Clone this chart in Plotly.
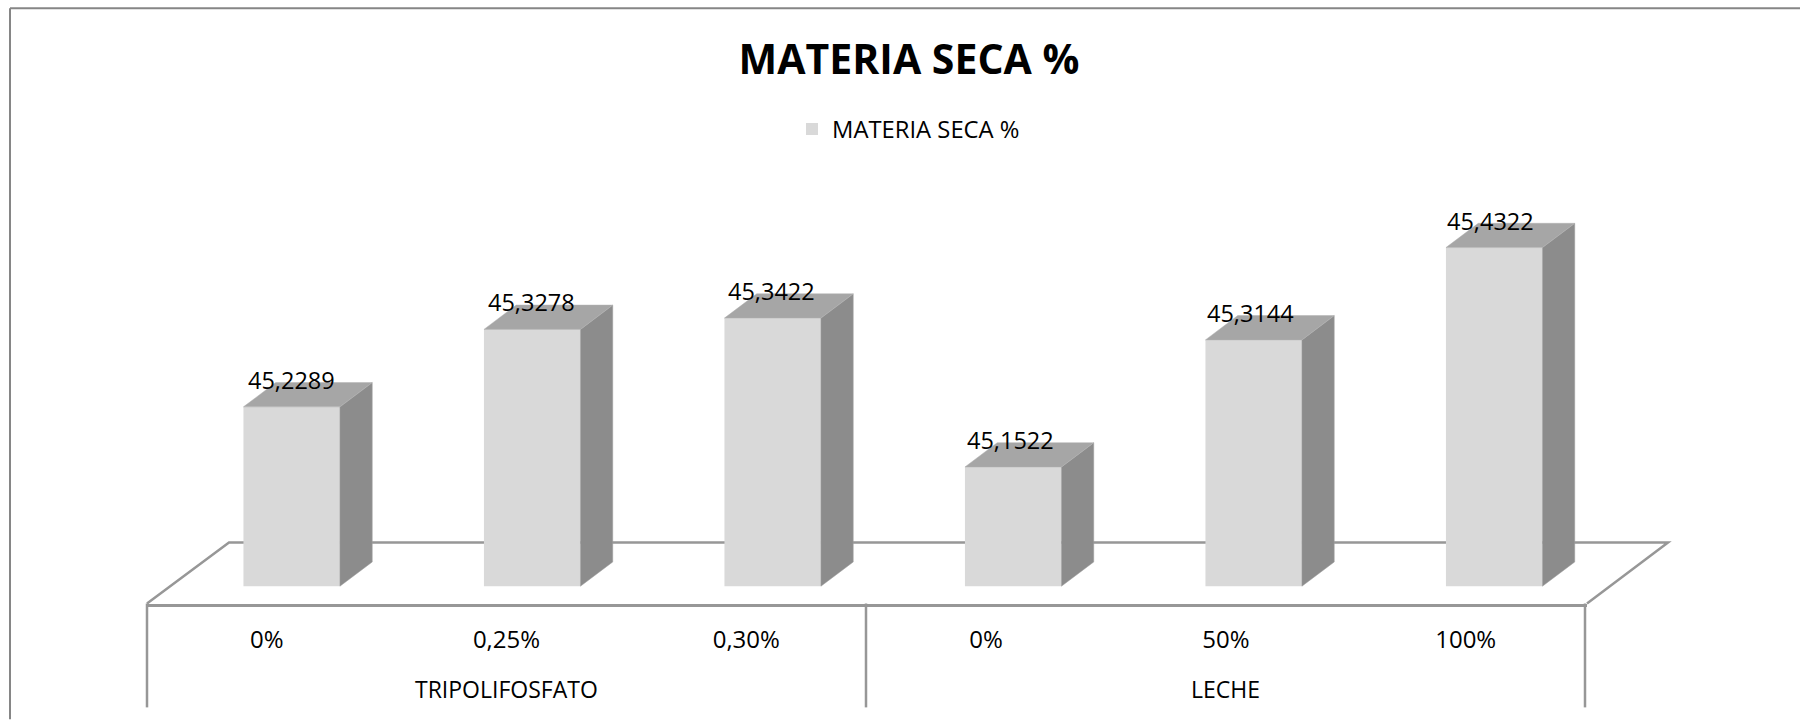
import plotly.graph_objects as go

# --- data ---
categories = ["0%", "0,25%", "0,30%", "0%", "50%", "100%"]
groups = ["TRIPOLIFOSFATO", "LECHE"]
values = [45.2289, 45.3278, 45.3422, 45.1522, 45.3144, 45.4322]
series_name = "MATERIA SECA %"

# --- styling / layout ---
W, H = 1800, 720
L, R, T, B = 147, 1587, 150, 604.5
BASE_PX = 586.7
PX_PER_UNIT_Y = 784.4
PX_PER_CAT = 240.5
CENTER0 = 291.7
BASE = 45.0
BAR_W = 96.5 / PX_PER_CAT
DX = 32.3 / PX_PER_CAT
DY = 24.3 / PX_PER_UNIT_Y
FONT = "Open Sans"
LINE = "#979797"
xs = list(range(len(values)))
# tick labels sit left of the bars (3D projection) and on a slightly tighter pitch
tick_pos = [(266.7 + 239.8 * i - CENTER0) / PX_PER_CAT for i in xs]

def px(x):
    return (x - L) / (R - L)

def py(y):
    return (B - y) / (B - T)

side_x, side_y, top_x, top_y = [], [], [], []
for i, v in zip(xs, values):
    r = i + BAR_W / 2
    l = i - BAR_W / 2
    side_x += [r, r + DX, r + DX, r, r, None]
    side_y += [BASE, BASE + DY, v + DY, v, BASE, None]
    top_x += [l, r, r + DX, l + DX, l, None]
    top_y += [v, v, v + DY, v + DY, v, None]

fig = go.Figure()
fig.add_trace(go.Bar(x=xs, y=[v - BASE for v in values], base=BASE, width=BAR_W,
                     marker=dict(color="#d9d9d9", line=dict(width=0)), name=series_name))
fig.add_trace(go.Scatter(x=side_x, y=side_y, mode="lines", fill="toself", fillcolor="#8c8c8c",
                         line=dict(width=0.5, color="#a0a0a0"), showlegend=False, hoverinfo="skip"))
fig.add_trace(go.Scatter(x=top_x, y=top_y, mode="lines", fill="toself", fillcolor="#a6a6a6",
                         line=dict(width=0.5, color="#b0b0b0"), showlegend=False, hoverinfo="skip"))

annotations = []
for i, v in zip(xs, values):
    annotations.append(dict(x=i, y=v, xref="x", yref="y", text=f"{v:.4f}".replace(".", ","),
                            showarrow=False, yshift=27, yanchor="middle", xanchor="center",
                            xshift=-0.8 * i,
                            font=dict(family=FONT, size=23.5, color="#000000")))
for g, c in zip(groups, [tick_pos[1], tick_pos[4]]):
    annotations.append(dict(x=c, y=py(690), xref="x", yref="paper", text=g, showarrow=False,
                            yanchor="middle", xanchor="center",
                            font=dict(family=FONT, size=23, color="#000000")))

LW = 2.5
shapes = [
    dict(type="path", xref="paper", yref="paper", layer="below",
         path=f"M {px(147)} {py(604)} L {px(229)} {py(543)} L {px(1668)} {py(543)} L {px(1587)} {py(604)}",
         line=dict(color=LINE, width=LW)),
    dict(type="line", xref="paper", yref="paper", x0=px(147), x1=px(147), y0=py(604), y1=py(708),
         line=dict(color=LINE, width=LW)),
    dict(type="line", xref="paper", yref="paper", x0=px(866), x1=px(866), y0=py(604), y1=py(708),
         line=dict(color=LINE, width=LW)),
    dict(type="line", xref="paper", yref="paper", x0=px(1585), x1=px(1585), y0=py(604), y1=py(708),
         line=dict(color=LINE, width=LW)),
    # chart frame (only top and left edges are visible in the crop)
    dict(type="line", xref="paper", yref="paper", x0=px(10), x1=px(1800), y0=py(8), y1=py(8),
         line=dict(color="#868686", width=2)),
    dict(type="line", xref="paper", yref="paper", x0=px(10), x1=px(10), y0=py(8), y1=py(720),
         line=dict(color="#868686", width=2)),
]

fig.update_layout(
    width=W, height=H, autosize=False,
    margin=dict(l=L, r=W - R, t=T, b=H - B, pad=0),
    paper_bgcolor="#ffffff", plot_bgcolor="rgba(0,0,0,0)",
    title=dict(text=f"<b>{series_name}</b>", x=909 / W, xref="container", xanchor="center",
               y=1 - 60 / H, yref="container", yanchor="middle",
               font=dict(family=FONT, size=41, color="#000000")),
    legend=dict(orientation="h", x=px(792), xanchor="left", y=py(129), yanchor="middle",
                font=dict(family=FONT, size=23.8, color="#000000"), bgcolor="rgba(0,0,0,0)",
                itemclick=False, itemdoubleclick=False),
    showlegend=True,
    xaxis=dict(range=[(L - CENTER0) / PX_PER_CAT, (R - CENTER0) / PX_PER_CAT],
               tickmode="array", tickvals=tick_pos, ticktext=categories,
               showgrid=False, zeroline=False, showline=True, linecolor=LINE, linewidth=LW,
               ticks="", ticklabelstandoff=12, tickfont=dict(family=FONT, size=24, color="#000000")),
    yaxis=dict(range=[BASE - (B - BASE_PX) / PX_PER_UNIT_Y, BASE + (BASE_PX - T) / PX_PER_UNIT_Y],
               visible=False, showgrid=False, zeroline=False),
    annotations=annotations, shapes=shapes,
)

fig.write_html("out.html", config={"displayModeBar": False},
               post_script="document.body.style.margin='0';document.documentElement.style.overflow='hidden';")
